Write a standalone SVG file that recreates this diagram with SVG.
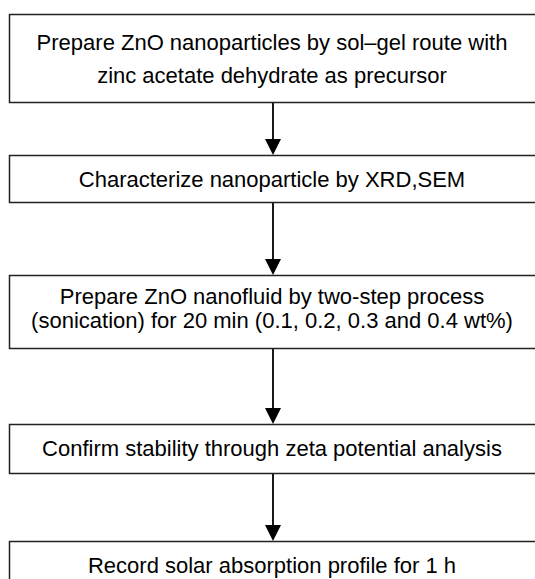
<svg xmlns="http://www.w3.org/2000/svg" width="535" height="579" viewBox="0 0 535 579">
<defs>
<style>
.box{fill:#fff;stroke:#222;stroke-width:1.5}
.t{font-family:"Liberation Sans",Arial,sans-serif;font-size:22px;fill:#000;text-anchor:middle}
.c{stroke:#000;stroke-width:1.8;fill:none}
</style>
</defs>
<rect width="535" height="579" fill="#fff"/>
<g id="connectors">
<line class="c" x1="273" y1="103" x2="273" y2="140"/>
<path d="M265,139 L281,139 L273,155 Z" fill="#000"/>
<line class="c" x1="273" y1="203" x2="273" y2="260"/>
<path d="M265,259 L281,259 L273,275 Z" fill="#000"/>
<line class="c" x1="273" y1="349" x2="273" y2="409"/>
<path d="M265,408 L281,408 L273,424 Z" fill="#000"/>
<line class="c" x1="273" y1="474" x2="273" y2="526"/>
<path d="M265,525 L281,525 L273,541 Z" fill="#000"/>
</g>
<g id="n1">
<rect class="box" x="9.5" y="14.5" width="530" height="88"/>
<text class="t" x="272" y="50">Prepare ZnO nanoparticles by sol–gel route with</text>
<text class="t" x="272" y="83">zinc acetate dehydrate as precursor</text>
</g>
<g id="n2">
<rect class="box" x="9.5" y="155.5" width="530" height="47"/>
<text class="t" x="272" y="187">Characterize nanoparticle by XRD,SEM</text>
</g>
<g id="n3">
<rect class="box" x="9.5" y="275.5" width="530" height="73"/>
<text class="t" x="272" y="304">Prepare ZnO nanofluid by two-step process</text>
<text class="t" x="272" y="328">(sonication) for 20 min (0.1, 0.2, 0.3 and 0.4 wt%)</text>
</g>
<g id="n4">
<rect class="box" x="9.5" y="424.5" width="530" height="49"/>
<text class="t" x="272" y="456">Confirm stability through zeta potential analysis</text>
</g>
<g id="n5">
<rect class="box" x="9.5" y="541.5" width="530" height="60"/>
<text class="t" x="272" y="573">Record solar absorption profile for 1 h</text>
</g>
</svg>
